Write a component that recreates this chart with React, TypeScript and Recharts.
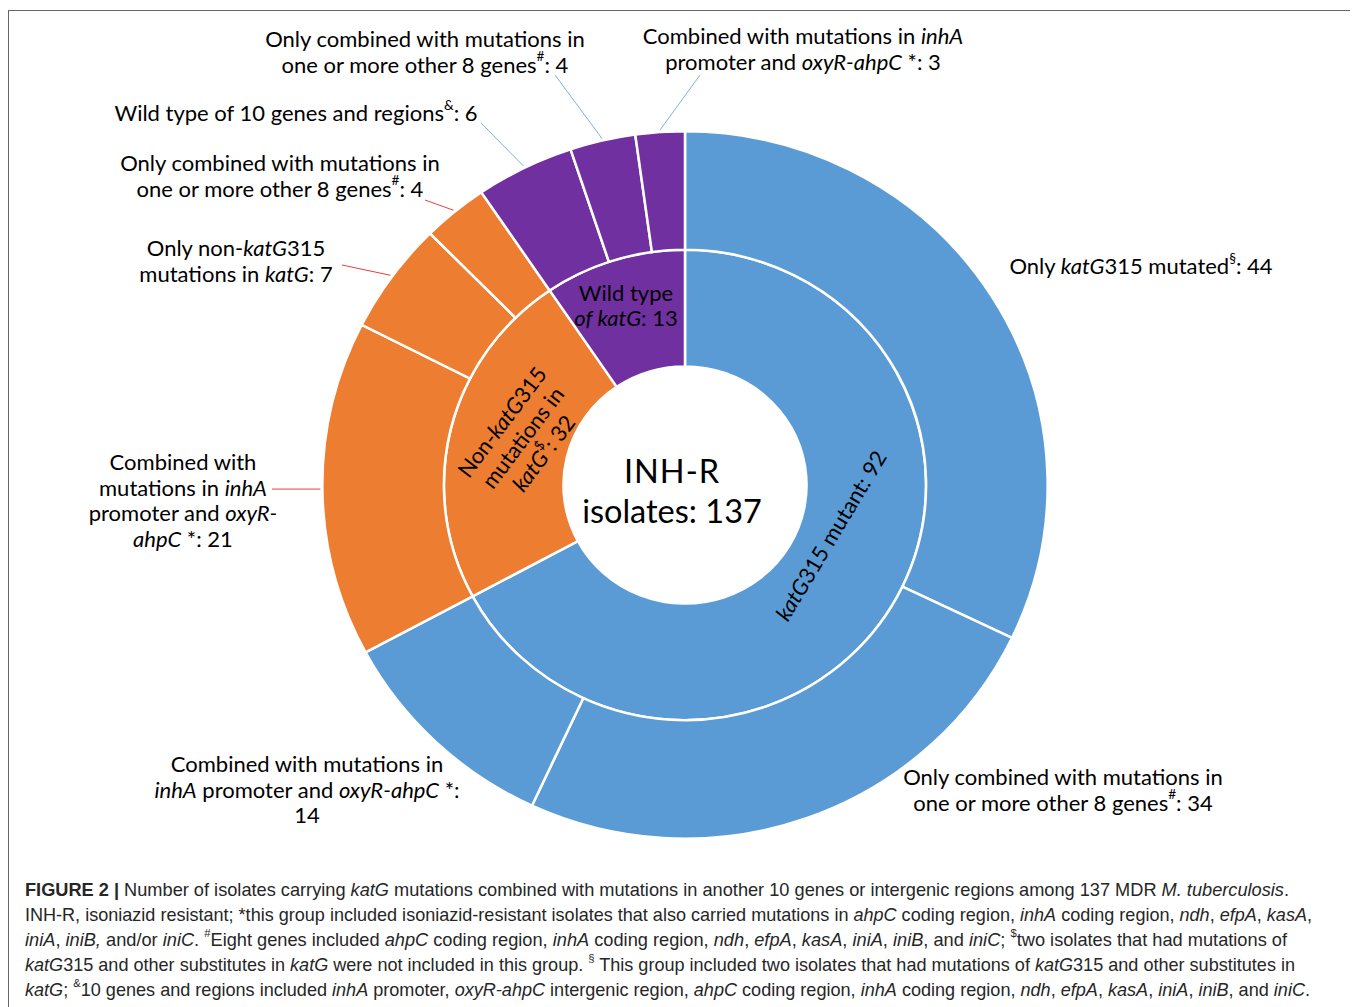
import React from "react";
import { PieChart, Pie, Cell, Label } from "recharts";

// ---------- data ----------
const innerNames = ["katG315 mutant", "Non-katG315 mutations in katG", "Wild type of katG"];
const innerValues = [92, 32, 13];
const outerNames = [
  "Only katG315 mutated",
  "Only combined with mutations in one or more other 8 genes",
  "Combined with mutations in inhA promoter and oxyR-ahpC",
  "Combined with mutations in inhA promoter and oxyR-ahpC",
  "Only non-katG315 mutations in katG",
  "Only combined with mutations in one or more other 8 genes",
  "Wild type of 10 genes and regions",
  "Only combined with mutations in one or more other 8 genes",
  "Combined with mutations in inhA promoter and oxyR-ahpC",
];
const outerValues = [44, 34, 14, 21, 7, 4, 6, 4, 3];
const outerParent = [0, 0, 0, 1, 1, 1, 2, 2, 2];
const totalLabel = "INH-R isolates";

// label texts ( _italic_, ^superscript^, ~bold~, {v} = value )
const innerLabelLines = [
  ["_katG_315 mutant: {v}"],
  ["Non-_katG_315", "mutations in", "_katG_^$^: {v}"],
  ["Wild type", "_of katG_: {v}"],
];
const outerLabelLines = [
  ["Only _katG_315 mutated^§^: {v}"],
  ["Only combined with mutations in", "one or more other 8 genes^#^: {v}"],
  ["Combined with mutations in", "_inhA_ promoter and _oxyR-ahpC_ *:", "{v}"],
  ["Combined with", "mutations in _inhA_", "promoter and _oxyR-_", "_ahpC_ *: {v}"],
  ["Only non-_katG_315", "mutations in _katG_: {v}"],
  ["Only combined with mutations in", "one or more other 8 genes^#^: {v}"],
  ["Wild type of 10 genes and regions^&^: {v}"],
  ["Only combined with mutations in", "one or more other 8 genes^#^: {v}"],
  ["Combined with mutations in _inhA_", "promoter and _oxyR-ahpC_ *: {v}"],
];
const captionLines = [
  "~FIGURE 2 |~ Number of isolates carrying _katG_ mutations combined with mutations in another 10 genes or intergenic regions among 137 MDR _M. tuberculosis_.",
  "INH-R, isoniazid resistant; *this group included isoniazid-resistant isolates that also carried mutations in _ahpC_ coding region, _inhA_ coding region, _ndh_, _efpA_, _kasA_,",
  "_iniA_, _iniB,_ and/or _iniC_. ^#^Eight genes included _ahpC_ coding region, _inhA_ coding region, _ndh_, _efpA_, _kasA_, _iniA_, _iniB_, and _iniC_; ^$^two isolates that had mutations of",
  "_katG_315 and other substitutes in _katG_ were not included in this group. ^§^ This group included two isolates that had mutations of _katG_315 and other substitutes in",
  "_katG_; ^&^10 genes and regions included _inhA_ promoter, _oxyR-ahpC_ intergenic region, _ahpC_ coding region, _inhA_ coding region, _ndh_, _efpA_, _kasA_, _iniA_, _iniB_, and _iniC_.",
];

// ---------- style / layout ----------
const parentColors = ["#5B9BD5", "#ED7D31", "#7030A0"];
const leaderColors = [null, "#F03C3C", "#7DB0E0"];
const CHART_W = 1340;
const CHART_H = 860;
const CX = 676;
const CY = 474;
const R_HOLE = 120;
const R_MID = 238;
const R_OUT = 358;
const LABEL_FONT = "Lato, 'Noto Sans', sans-serif";
const LABEL_SIZE = 22;
const LH = 25.5;
const captionWidths = [1264, 1287, 1262, 1270, 1285];

// label anchor offsets relative to pie centre; lx/ly = leader line start
const outerLabelPos: any[] = [
  { dx: 456, dy: -220 },
  { dx: 378, dy: 291 },
  { dx: -378, dy: 278 },
  { dx: -502, dy: -24, lx: -413, ly: 10, flat: true },
  { dx: -449, dy: -238, lx: -343, ly: -220 },
  { dx: -405, dy: -323, lx: -260, ly: -285 },
  { dx: -389, dy: -373, lx: -204, ly: -362 },
  { dx: -260, dy: -447, lx: -130, ly: -410 },
  { dx: 118, dy: -450, lx: 15, ly: -410 },
];
const innerLabelPos = [
  { dx: 145, dy: 50, rot: -59 },
  { dx: -163, dy: -48, rot: -53 },
  { dx: -59, dy: -193, rot: 0 },
];

type Seg = { t: string; i: boolean; s: boolean; b: boolean };
function parse(str: string): Seg[] {
  const out: Seg[] = [];
  let i = false, s = false, b = false, cur = "";
  const push = () => {
    if (cur) out.push({ t: cur, i, s, b });
    cur = "";
  };
  for (const ch of str) {
    if (ch === "_") { push(); i = !i; }
    else if (ch === "^") { push(); s = !s; }
    else if (ch === "~") { push(); b = !b; }
    else cur += ch;
  }
  push();
  return out;
}

function richSpans(text: string, size: number) {
  const segs = parse(text);
  let shifted = false;
  return segs.map((sg, k) => {
    let dy: number | undefined = undefined;
    if (sg.s && !shifted) { dy = -size * 0.33; shifted = true; }
    else if (!sg.s && shifted) { dy = size * 0.33; shifted = false; }
    return (
      <tspan
        key={k}
        dy={dy}
        fontStyle={sg.i ? "italic" : "normal"}
        fontWeight={sg.b ? 700 : 400}
        fontSize={sg.s ? size * 0.62 : size}
      >
        {sg.t}
      </tspan>
    );
  });
}

function SvgLine({ x, y, text, size }: any) {
  return (
    <text x={x} y={y} textAnchor="middle" dominantBaseline="central" fontFamily={LABEL_FONT} fontSize={size} fill="#000">
      {richSpans(text, size)}
    </text>
  );
}

const RAD = Math.PI / 180;

const renderOuterLabel = (props: any) => {
  const { cx, cy, midAngle, outerRadius, index } = props;
  const pos = outerLabelPos[index];
  const lines = outerLabelLines[index].map((l) => l.replace("{v}", String(outerValues[index])));
  let leader = null;
  if (pos.lx !== undefined) {
    const ex = cx + (outerRadius + 2) * Math.cos(-midAngle * RAD) * 1.013;
    const ey = cy + (outerRadius + 2) * Math.sin(-midAngle * RAD) * 0.988;
    leader = (
      <line
        x1={cx + pos.lx}
        y1={pos.flat ? ey : cy + pos.ly}
        x2={ex}
        y2={ey}
        stroke={leaderColors[outerParent[index]] || "#888"}
        strokeWidth={1}
      />
    );
  }
  return (
    <g key={`ol-${index}`}>
      {leader}
      {lines.map((l, k) => (
        <SvgLine key={k} x={cx + pos.dx} y={cy + pos.dy + k * LH} text={l} size={LABEL_SIZE} />
      ))}
    </g>
  );
};

const renderInnerLabel = (props: any) => {
  const { cx, cy, index } = props;
  const pos = innerLabelPos[index];
  const lines = innerLabelLines[index].map((l) => l.replace("{v}", String(innerValues[index])));
  const n = lines.length;
  const lh = pos.rot === 0 ? 25 : 26;
  const off = pos.rot === 0 ? 0 : -((n - 1) / 2) * lh;
  return (
    <g key={`il-${index}`} transform={`translate(${cx + pos.dx},${cy + pos.dy}) rotate(${pos.rot})`}>
      {lines.map((l, k) => (
        <SvgLine key={k} x={0} y={off + k * lh} text={l} size={LABEL_SIZE} />
      ))}
    </g>
  );
};

const renderCenter = (props: any) => {
  const vb = props.viewBox || {};
  const cx = vb.cx ?? CX;
  const cy = vb.cy ?? CY;
  const total = innerValues.reduce((a, b) => a + b, 0);
  const [w1, w2] = totalLabel.split(" ");
  return (
    <g>
      <text x={cx - 13} y={cy - 15} textAnchor="middle" dominantBaseline="central" fontFamily={LABEL_FONT} fontSize={32.5} fill="#000" letterSpacing={1}>
        {w1}
      </text>
      <text x={cx - 13} y={cy + 25} textAnchor="middle" dominantBaseline="central" fontFamily={LABEL_FONT} fontSize={32.5} fill="#000">
        {`${w2}: ${total}`}
      </text>
    </g>
  );
};

const innerData = innerNames.map((name, i) => ({ name, value: innerValues[i] }));
const outerData = outerNames.map((name, i) => ({ name, value: outerValues[i], parent: outerParent[i] }));

const CAP_SIZE = 18.5;

export default function App() {
  return (
    <div
      style={{
        position: "relative",
        width: 1347,
        height: 1010,
        marginTop: 2,
        border: "1px solid #666",
        boxSizing: "border-box",
        background: "#fff",
      }}
    >
      <style>{`.recharts-pie-sector path { transform-origin: ${CX}px ${CY}px; transform: scale(1.013, 0.988); }`}</style>
      <div style={{ position: "absolute", left: 0, top: 0 }}>
        <PieChart width={CHART_W} height={CHART_H} margin={{ top: 0, right: 0, bottom: 0, left: 0 }}>
          <Pie
            data={innerData}
            dataKey="value"
            nameKey="name"
            cx={CX}
            cy={CY}
            innerRadius={R_HOLE}
            outerRadius={R_MID}
            startAngle={90}
            endAngle={-270}
            stroke="#fff"
            strokeWidth={2.5}
            label={renderInnerLabel}
            labelLine={false}
            isAnimationActive={false}
          >
            {innerData.map((d, i) => (
              <Cell key={i} fill={parentColors[i]} />
            ))}
            <Label position="center" content={renderCenter} />
          </Pie>
          <Pie
            data={outerData}
            dataKey="value"
            nameKey="name"
            cx={CX}
            cy={CY}
            innerRadius={R_MID}
            outerRadius={R_OUT}
            startAngle={90}
            endAngle={-270}
            stroke="#fff"
            strokeWidth={2.5}
            label={renderOuterLabel}
            labelLine={false}
            isAnimationActive={false}
          >
            {outerData.map((d, i) => (
              <Cell key={i} fill={parentColors[d.parent]} />
            ))}
          </Pie>
        </PieChart>
      </div>
      <svg
        width={1340}
        height={135}
        style={{ position: "absolute", left: 0, top: 864 }}
      >
        {captionLines.map((l, k) => (
          <text
            key={k}
            x={16}
            y={13.5 + k * 25.2}
            dominantBaseline="central"
            fontFamily="'Liberation Sans', Arial, sans-serif"
            fontSize={CAP_SIZE}
            fill="#262626"
            textLength={captionWidths[k]}
            lengthAdjust="spacingAndGlyphs"
          >
            {richSpans(l, CAP_SIZE)}
          </text>
        ))}
      </svg>
    </div>
  );
}
